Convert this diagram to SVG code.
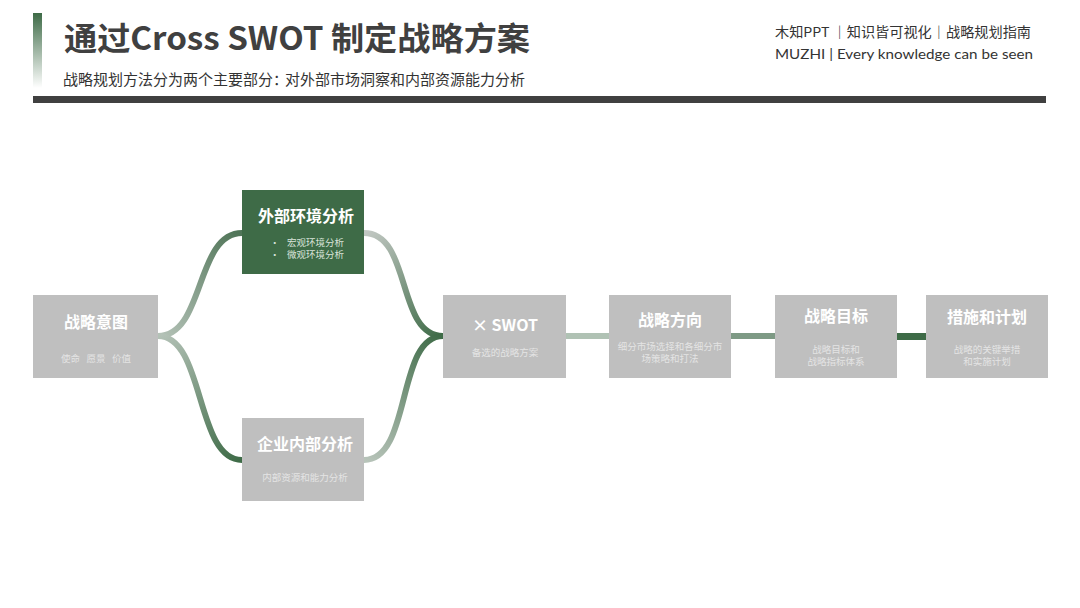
<svg xmlns="http://www.w3.org/2000/svg" width="1080" height="608" viewBox="0 0 1080 608">
<defs>
<style>
.cjk{font-family:"Noto Sans CJK SC","Noto Sans",sans-serif;}
.box{fill:#bfbfbf;}
.gbox{fill:#3e6b47;}
.t{font-family:"Noto Sans CJK SC","Noto Sans",sans-serif;font-weight:bold;fill:#ffffff;font-size:16px;text-anchor:middle;}
.s{font-family:"Noto Sans CJK SC","Noto Sans",sans-serif;fill:#e4e4e4;font-size:9.5px;text-anchor:middle;}
.c{fill:none;stroke-width:6;stroke-linecap:butt;}
</style>
<linearGradient id="bar" x1="0" y1="0" x2="0" y2="1">
<stop offset="0" stop-color="#3e6b47"/>
<stop offset="1" stop-color="#ffffff"/>
</linearGradient>
<linearGradient id="gLU" gradientUnits="userSpaceOnUse" x1="158" y1="336" x2="242" y2="233">
<stop offset="0" stop-color="#b4c2b7"/>
<stop offset="1" stop-color="#4f7457"/>
</linearGradient>
<linearGradient id="gLD" gradientUnits="userSpaceOnUse" x1="158" y1="336" x2="242" y2="460">
<stop offset="0" stop-color="#b4c2b7"/>
<stop offset="1" stop-color="#3e6b47"/>
</linearGradient>
<linearGradient id="gRU" gradientUnits="userSpaceOnUse" x1="364" y1="233" x2="443" y2="336">
<stop offset="0" stop-color="#c2c8c3"/>
<stop offset="1" stop-color="#3e6b47"/>
</linearGradient>
<linearGradient id="gRD" gradientUnits="userSpaceOnUse" x1="364" y1="460" x2="443" y2="336">
<stop offset="0" stop-color="#b8c4ba"/>
<stop offset="1" stop-color="#3e6b47"/>
</linearGradient>
</defs>
<rect width="1080" height="608" fill="#ffffff"/>

<g id="header">
<rect x="33" y="13" width="9" height="75" fill="url(#bar)"/>
<text x="64" y="50" class="cjk" font-size="32" font-weight="bold" fill="#404040" textLength="466" lengthAdjust="spacingAndGlyphs">通过Cross SWOT 制定战略方案</text>
<text x="63" y="85" class="cjk" font-size="15" fill="#333333" xml:space="preserve">战略规划方法分为两个主要部分：<tspan x="285">对外部市场洞察和内部资源能力分析</tspan></text>
<text x="775" y="37" class="cjk" font-size="13.5" fill="#333333" textLength="256" lengthAdjust="spacingAndGlyphs">木知PPT ｜知识皆可视化｜战略规划指南</text>
<text x="775" y="59" font-family="Lato,'Noto Sans',sans-serif" font-size="14" fill="#333333" textLength="258" lengthAdjust="spacingAndGlyphs">MUZHI | Every knowledge can be seen</text>
<rect x="33" y="96" width="1013" height="7" fill="#404040"/>
</g>

<g id="connectors">
<path class="c" stroke="url(#gLU)" d="M158,336 C205,336 195,233 242,233"/>
<path class="c" stroke="url(#gLD)" d="M158,336 C205,336 195,460 242,460"/>
<path class="c" stroke="url(#gRU)" d="M364,233 C412,233 396,336 443,336"/>
<path class="c" stroke="url(#gRD)" d="M364,460 C412,460 396,336 443,336"/>
<rect x="566" y="333" width="43" height="6" fill="#b0c2b4"/>
<rect x="731" y="333" width="44" height="6" fill="#7e9a85"/>
<rect x="897" y="333" width="29" height="7" fill="#3e6b47"/>
</g>

<g id="node-intent">
<rect class="box" x="33" y="295" width="125" height="83"/>
<text class="t" x="96" y="328" font-size="17">战略意图</text>
<text class="s" x="96" y="362" xml:space="preserve">使命   愿景   价值</text>
</g>

<g id="node-external">
<rect class="gbox" x="242" y="190" width="122" height="84"/>
<text class="t" x="306" y="222">外部环境分析</text>
<text class="cjk" x="270" y="246" font-size="9.5" fill="#d9e3da">•</text>
<text class="cjk" x="287" y="246" font-size="9.5" fill="#d9e3da">宏观环境分析</text>
<text class="cjk" x="270" y="258" font-size="9.5" fill="#d9e3da">•</text>
<text class="cjk" x="287" y="258" font-size="9.5" fill="#d9e3da">微观环境分析</text>
</g>

<g id="node-internal">
<rect class="box" x="242" y="418" width="122" height="83"/>
<text class="t" x="305" y="450">企业内部分析</text>
<text class="s" x="305" y="481">内部资源和能力分析</text>
</g>

<g id="node-swot">
<rect class="box" x="443" y="295" width="123" height="83"/>
<text class="t" x="505" y="331">× SWOT</text>
<text class="s" x="505" y="356">备选的战略方案</text>
</g>

<g id="node-direction">
<rect class="box" x="609" y="295" width="122" height="83"/>
<text class="t" x="670" y="326">战略方向</text>
<text class="s" x="670" y="350">细分市场选择和各细分市</text>
<text class="s" x="670" y="362">场策略和打法</text>
</g>

<g id="node-goal">
<rect class="box" x="775" y="295" width="122" height="83"/>
<text class="t" x="836" y="322">战略目标</text>
<text class="s" x="836" y="353">战略目标和</text>
<text class="s" x="836" y="365">战略指标体系</text>
</g>

<g id="node-plan">
<rect class="box" x="926" y="295" width="122" height="83"/>
<text class="t" x="987" y="323">措施和计划</text>
<text class="s" x="987" y="353">战略的关键举措</text>
<text class="s" x="987" y="365">和实施计划</text>
</g>
</svg>
